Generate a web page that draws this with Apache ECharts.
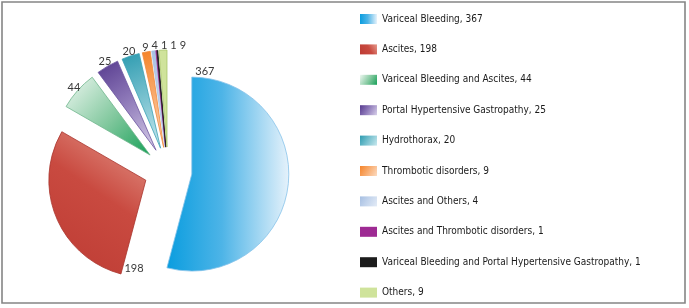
<!DOCTYPE html>
<html>
<head>
<meta charset="utf-8">
<script src="https://cdn.jsdelivr.net/npm/echarts@6/dist/echarts.min.js"></script>
<style>
html, body { margin: 0; padding: 0; background: #fff; }
#main { width: 689px; height: 308px; }
</style>
</head>
<body>
<div id="main"></div>
<script>
var names = ['Variceal Bleeding', 'Ascites', 'Variceal Bleeding and Ascites',
    'Portal Hypertensive Gastropathy', 'Hydrothorax', 'Thrombotic disorders',
    'Ascites and Others', 'Ascites and Thrombotic disorders',
    'Variceal Bleeding and Portal Hypertensive Gastropathy', 'Others'];
var values = [367, 198, 44, 25, 20, 9, 4, 1, 1, 9];

// fill styles: gradient direction, stops, outline
var fills = [
    { dir: [0, 0, 1, 0], stops: ['#0a9ddf', '#4db4e7', '#e6f2fb'], bd: '#86c3ea' },
    { dir: [0, 1, 1, 0], stops: ['#bd3b33', '#c94a40', '#e59a8d'], bd: '#a9352d' },
    { dir: [1, 1, 0, 0], stops: ['#17a058', '#7fc79c', '#eef7f1'], bd: '#6fb58b' },
    { dir: [0, 0, 1, 1], stops: ['#563a8e', '#8d78b8', '#d8d0ea'], bd: '#6c55a0' },
    { dir: [0, 0, 1, 1], stops: ['#2d9bb0', '#74bfcd', '#c8e8ee'], bd: '#3fa3b6' },
    { dir: [0, 0, 1, 1], stops: ['#f5842a', '#f8aa6c', '#fcdcc2'], bd: '#f08a3c' },
    { dir: [0, 0, 1, 1], stops: ['#a6bfe2', '#c3d4ec', '#e3ebf6'], bd: '#a6bfe2' },
    { dir: null, stops: ['#9e2a93'], bd: '#9e2a93' },
    { dir: null, stops: ['#1c1c1c'], bd: '#1c1c1c' },
    { dir: null, stops: ['#cfe39b'], bd: '#a9c66a' }
];

var CX = 168, CY = 171, R = 97, OFF = 24;  // pie centre, radius, explode
var total = values.reduce(function (a, b) { return a + b; }, 0);

function sliceAngles(i) {  // clockwise from 12 o'clock, radians
    var s = 0;
    for (var k = 0; k < i; k++) s += values[k];
    return [s / total * 2 * Math.PI, (s + values[i]) / total * 2 * Math.PI];
}
function pt(ox, oy, a, d) {
    return [ox + d * Math.sin(a), oy - d * Math.cos(a)];
}

var pieData = [], labelData = [];
for (var i = 0; i < names.length; i++) {
    var f = fills[i];
    var col = f.dir ? new echarts.graphic.LinearGradient(f.dir[0], f.dir[1], f.dir[2], f.dir[3], [
        { offset: 0, color: f.stops[0] }, { offset: i == 1 ? 0.55 : 0.45, color: f.stops[1] }, { offset: 1, color: f.stops[2] }
    ]) : f.stops[0];
    pieData.push({
        name: names[i],
        value: values[i],
        selected: true,
        itemStyle: { color: col, borderColor: f.bd, borderWidth: 0.8 }
    });
    labelData.push({ name: names[i], value: values[i] });
}

var dom = document.getElementById('main');
var myChart = echarts.init(dom, null, { renderer: 'canvas' });

var option = {
    animation: false,
    backgroundColor: '#fff',
    graphic: [{
        type: 'rect',
        shape: { x: 2, y: 2, width: 683, height: 301 },
        style: { fill: 'none', stroke: '#858585', lineWidth: 1.6 },
        silent: true
    }],
    legend: {
        orient: 'vertical',
        left: 360,
        top: 12,
        padding: 0,
        itemWidth: 17,
        itemHeight: 10,
        itemGap: 16.4,
        icon: 'rect',
        selectedMode: false,
        data: names,
        itemStyle: { borderWidth: 0 },
        formatter: function (name) {
            return name + ', ' + values[names.indexOf(name)];
        },
        textStyle: {
            fontFamily: "'Liberation Sans Narrow', 'DejaVu Sans Condensed', sans-serif",
            fontSize: 10,
            lineHeight: 14,
            color: '#1a1a1a'
        }
    },
    series: [{
        // the exploded slices
        type: 'pie',
        center: [CX, CY],
        radius: R,
        startAngle: 90,
        clockwise: true,
        selectedMode: 'multiple',
        selectedOffset: OFF,
        emphasis: { disabled: true },
        label: { show: false },
        labelLine: { show: false },
        data: pieData
    }, {
        // value labels only (same geometry, no fill)
        type: 'pie',
        center: [CX, CY],
        radius: R,
        startAngle: 90,
        clockwise: true,
        silent: true,
        emphasis: { disabled: true },
        itemStyle: { color: 'rgba(0,0,0,0)' },
        label: {
            show: true,
            position: 'outside',
            formatter: '{c}',
            overflow: 'none',
            fontFamily: 'Lato, "Open Sans", sans-serif',
            fontSize: 11,
            color: '#3a3a3a',
            backgroundColor: 'rgba(255,255,255,0)',
            padding: [0, 1.5]
        },
        labelLine: { show: false },
        labelLayout: function (p) {
            var ang = sliceAngles(p.dataIndex);
            var mid = (ang[0] + ang[1]) / 2;
            var apex = pt(CX, CY, mid, OFF);
            if (ang[1] - ang[0] > Math.PI / 2) {
                // big slices: label at the outer corner of the leading edge
                var c = pt(apex[0], apex[1], ang[0], R);
                return { x: c[0] + 2, y: c[1] - 6, align: 'left', verticalAlign: 'middle' };
            }
            var q = pt(apex[0], apex[1], mid, R + 5);
            return { x: q[0], y: q[1], align: 'center', verticalAlign: 'middle', moveOverlap: 'shiftX' };
        },
        data: labelData
    }]
};

myChart.setOption(option);
</script>
</body>
</html>
